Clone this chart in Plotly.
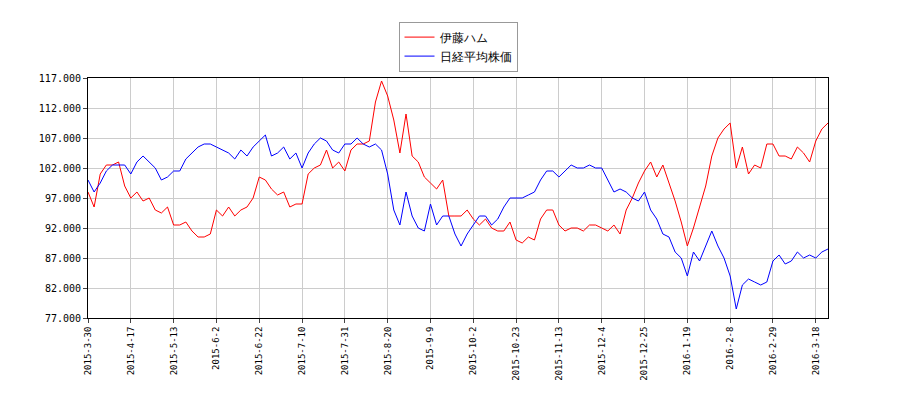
import pandas as pd
import plotly.graph_objects as go

# Tokyo market holidays in the period
holidays = ["2015-04-29", "2015-05-04", "2015-05-05", "2015-05-06", "2015-07-20",
            "2015-09-21", "2015-09-22", "2015-09-23", "2015-10-12", "2015-11-03",
            "2015-11-23", "2015-12-23", "2015-12-31", "2016-01-01", "2016-01-11",
            "2016-02-11", "2016-03-21"]

days = pd.bdate_range("2015-03-30", "2016-03-25")
days = days[~days.isin(pd.to_datetime(holidays))]
sample_dates = days[::2]

itoham = [98, 95.5, 101, 102.5, 102.5, 103, 99, 97, 98, 96.5, 97, 95, 94.5, 95.5, 92.5, 92.5,
          93, 91.5, 90.5, 90.5, 91, 95, 94, 95.5, 94, 95, 95.5, 97, 100.5, 100, 98.5, 97.5,
          98, 95.5, 96, 96, 101, 102, 102.5, 105, 102, 103, 101.5, 105, 106, 106, 106.5, 113,
          116.5, 114, 110, 104.5, 111, 104, 103, 100.5, 99.5, 98.5, 100, 94, 94, 94, 95, 93.5,
          92.5, 93.5, 92, 91.5, 91.5, 93, 90, 89.5, 90.5, 90, 93.5, 95, 95, 92.5, 91.5, 92,
          92, 91.5, 92.5, 92.5, 92, 91.5, 92.5, 91, 95, 97, 99.5, 101.5, 103, 100.5, 102.5, 99.5,
          96.5, 93, 89, 92, 95.5, 99, 104, 107, 108.5, 109.5, 102, 105.5, 101, 102.5, 102, 106,
          106, 104, 104, 103.5, 105.5, 104.5, 103, 106.5, 108.5, 109.5]

nikkei = [100, 98, 99.5, 101.5, 102.5, 102.5, 102.5, 101, 103, 104, 103, 102, 100, 100.5, 101.5, 101.5,
          103.5, 104.5, 105.5, 106, 106, 105.5, 105, 104.5, 103.5, 105, 104, 105.5, 106.5, 107.5, 104, 104.5,
          105.5, 103.5, 104.5, 102, 104.5, 106, 107, 106.5, 105, 104.5, 106, 106, 107, 106, 105.5, 106,
          105, 101, 95, 92.5, 98, 94, 92, 91.5, 96, 92.5, 94, 94, 91, 89, 91, 92.5,
          94, 94, 92.5, 93.5, 95.5, 97, 97, 97, 97.5, 98, 100, 101.5, 101.5, 100.5, 101.5, 102.5,
          102, 102, 102.5, 102, 102, 100, 98, 98.5, 98, 97, 96.5, 98, 95, 93.5, 91, 90.5,
          88, 87, 84, 88, 86.5, 89, 91.5, 89, 87, 84, 78.5, 82.5, 83.5, 83, 82.5, 83,
          86.5, 87.5, 86, 86.5, 88, 87, 87.5, 87, 88, 88.5]

tick_labels = ["2015-3-30", "2015-4-17", "2015-5-13", "2015-6-2", "2015-6-22", "2015-7-10",
               "2015-7-31", "2015-8-20", "2015-9-9", "2015-10-2", "2015-10-23", "2015-11-13",
               "2015-12-4", "2015-12-25", "2016-1-19", "2016-2-8", "2016-2-29", "2016-3-18"]

fig = go.Figure()
fig.add_trace(go.Scatter(x=sample_dates, y=itoham, mode="lines", name="伊藤ハム",
                         line=dict(color="#ff0000", width=1)))
fig.add_trace(go.Scatter(x=sample_dates, y=nikkei, mode="lines", name="日経平均株価",
                         line=dict(color="#0000ff", width=1)))

fig.update_layout(
    width=900, height=400,
    margin=dict(l=80, r=80, t=70, b=90, autoexpand=False),
    paper_bgcolor="white", plot_bgcolor="white",
    font=dict(family="DejaVu Sans Mono", size=10, color="black"),
    legend=dict(x=0.5, y=1.235, xanchor="center", yanchor="top",
                bordercolor="#999999", borderwidth=1, bgcolor="white",
                font=dict(family="DejaVu Sans", size=12)),
)
fig.update_xaxes(
    type="date", automargin=False,
    rangebreaks=[dict(bounds=["sat", "mon"]), dict(values=holidays)],
    range=[days[0], days[-1]],
    tickvals=pd.to_datetime(tick_labels), ticktext=tick_labels, tickangle=-90,
    showgrid=True, gridcolor="#cccccc", showline=True, linecolor="black", mirror=True,
    ticks="outside", ticklen=4, tickfont=dict(size=9),
)
fig.update_yaxes(
    automargin=False,
    range=[77, 117], tickvals=list(range(77, 118, 5)),
    ticktext=[f"{v}.000" for v in range(77, 118, 5)],
    showgrid=True, gridcolor="#cccccc", showline=True, linecolor="black", mirror=True,
    ticks="outside", ticklen=4, tickfont=dict(size=10),
)

fig.write_html("out.html")
